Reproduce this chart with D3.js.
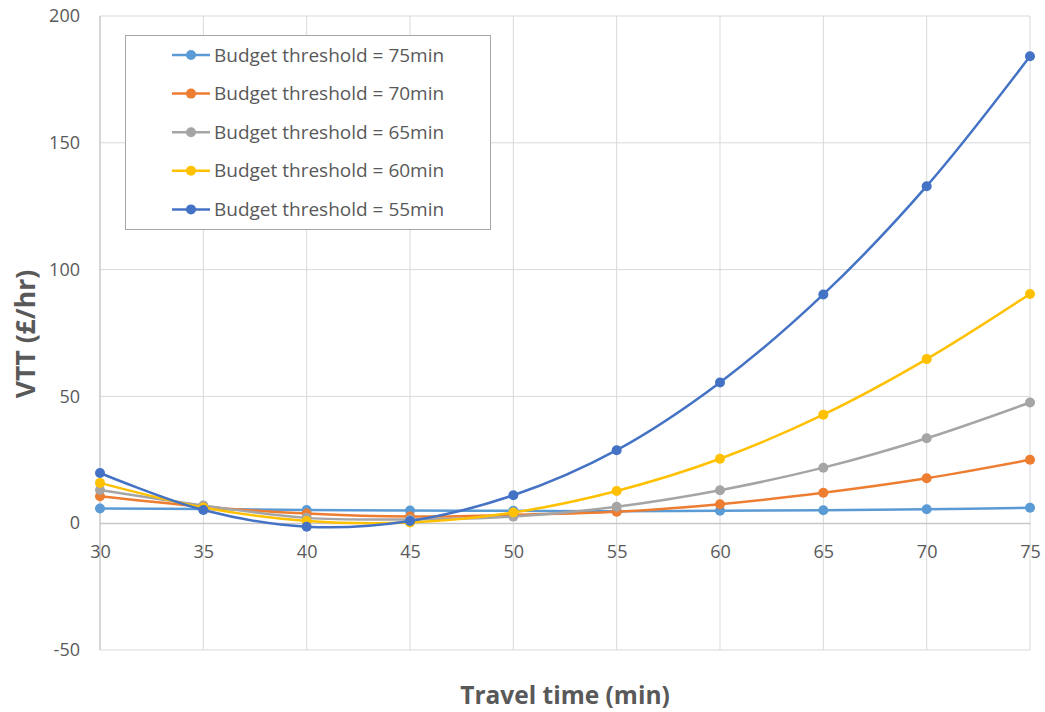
<!DOCTYPE html>
<html>
<head>
<meta charset="utf-8">
<script src="https://cdn.jsdelivr.net/npm/d3@7"></script>
<style>
  html, body { margin: 0; padding: 0; background: #fff; }
  svg { display: block; }
</style>
</head>
<body>
<svg id="chart" width="1045" height="712"></svg>
<script>
// Travel time (min) on the x axis
const travelTimes = [30, 35, 40, 45, 50, 55, 60, 65, 70, 75];

// VTT (£/hr) for each budget threshold
const vtt75 = [5.8, 5.6, 5.2, 5.0, 4.9, 4.7, 4.9, 5.1, 5.5, 6.1];
const vtt70 = [10.6, 6.5, 3.8, 2.6, 3.3, 4.5, 7.5, 12.0, 17.7, 25.0];
const vtt65 = [13.1, 7.0, 2.1, 1.5, 2.6, 6.5, 13.0, 21.9, 33.5, 47.6];
const vtt60 = [15.9, 6.2, 0.9, 0.3, 4.2, 12.7, 25.4, 42.8, 64.7, 90.4];
const vtt55 = [19.8, 5.2, -1.4, 0.9, 11.0, 28.8, 55.5, 90.2, 132.9, 184.1];

const seriesNames = [
  "Budget threshold = 75min",
  "Budget threshold = 70min",
  "Budget threshold = 65min",
  "Budget threshold = 60min",
  "Budget threshold = 55min"
];
const seriesValues = [vtt75, vtt70, vtt65, vtt60, vtt55];
const seriesColors = ["#5B9BD5", "#ED7D31", "#A5A5A5", "#FFC000", "#4472C4"];

const xTicks = [30, 35, 40, 45, 50, 55, 60, 65, 70, 75];
const yTicks = [-50, 0, 50, 100, 150, 200];

(function () {
  const svg = d3.select("#chart");
  const plotLeft = 100, plotRight = 1030, plotTop = 16, plotBottom = 650;
  const font = "'Open Sans', 'Noto Sans', sans-serif";
  const textColor = "#595959";

  const x = d3.scaleLinear().domain([30, 75]).range([plotLeft, plotRight]);
  const y = d3.scaleLinear().domain([-50, 200]).range([plotBottom, plotTop]);

  // gridlines
  const grid = svg.append("g");
  grid.selectAll(".hg").data(yTicks).join("line")
    .attr("x1", plotLeft).attr("x2", plotRight)
    .attr("y1", d => y(d)).attr("y2", d => y(d))
    .attr("stroke", "#d9d9d9").attr("stroke-width", 1);
  grid.selectAll(".vg").data(xTicks).join("line")
    .attr("x1", d => x(d)).attr("x2", d => x(d))
    .attr("y1", plotTop).attr("y2", plotBottom)
    .attr("stroke", "#d9d9d9").attr("stroke-width", 1);

  // vertical axis line
  svg.append("line")
    .attr("x1", plotLeft).attr("x2", plotLeft).attr("y1", plotTop).attr("y2", plotBottom)
    .attr("stroke", "#bfbfbf").attr("stroke-width", 1);

  // horizontal axis at zero, labels below it
  const xAxis = d3.axisBottom(x).tickValues(xTicks).tickSize(0).tickPadding(22)
    .tickFormat(d => String(d));
  const gx = svg.append("g").attr("transform", `translate(0,${y(0)})`).call(xAxis);
  gx.select(".domain").attr("stroke", "#bfbfbf");
  gx.selectAll("text").attr("font-family", font).attr("font-size", 18).attr("fill", textColor);

  const yAxis = d3.axisLeft(y).tickValues(yTicks).tickSize(0).tickPadding(20)
    .tickFormat(d => String(d));
  const gy = svg.append("g").attr("transform", `translate(${plotLeft},0)`).call(yAxis);
  gy.select(".domain").remove();
  gy.selectAll("text").attr("font-family", font).attr("font-size", 18).attr("fill", textColor);

  // series lines and markers
  const line = d3.line()
    .x((d, i) => x(travelTimes[i]))
    .y(d => y(d))
    .curve(d3.curveCatmullRom.alpha(0.5));

  seriesValues.forEach((vals, s) => {
    const g = svg.append("g");
    g.append("path")
      .attr("d", line(vals))
      .attr("fill", "none")
      .attr("stroke", seriesColors[s])
      .attr("stroke-width", 2.5)
      .attr("stroke-linejoin", "round");
    g.selectAll("circle").data(vals).join("circle")
      .attr("cx", (d, i) => x(travelTimes[i]))
      .attr("cy", d => y(d))
      .attr("r", 5)
      .attr("fill", seriesColors[s]);
  });

  // legend
  const legend = svg.append("g");
  legend.append("rect")
    .attr("x", 125.5).attr("y", 35.5).attr("width", 365).attr("height", 194)
    .attr("fill", "#fff").attr("stroke", "#a6a6a6").attr("stroke-width", 1);
  seriesNames.forEach((name, i) => {
    const ly = 55 + i * 38.6;
    legend.append("line")
      .attr("x1", 172).attr("x2", 210).attr("y1", ly).attr("y2", ly)
      .attr("stroke", seriesColors[i]).attr("stroke-width", 2.5);
    legend.append("circle")
      .attr("cx", 191).attr("cy", ly).attr("r", 5).attr("fill", seriesColors[i]);
    legend.append("text")
      .attr("x", 214).attr("y", ly).attr("dy", "0.35em")
      .attr("font-family", font).attr("font-size", 19).attr("fill", textColor)
      .text(name);
  });

  // axis titles
  svg.append("text")
    .attr("x", 565).attr("y", 704)
    .attr("text-anchor", "middle")
    .attr("font-family", font).attr("font-weight", "bold").attr("font-size", 24.5)
    .attr("fill", textColor)
    .text("Travel time (min)");

  svg.append("text")
    .attr("transform", "translate(35,334) rotate(-90)")
    .attr("text-anchor", "middle")
    .attr("font-family", font).attr("font-weight", "bold").attr("font-size", 26.5)
    .attr("fill", textColor)
    .text("VTT (£/hr)");
})();
</script>
</body>
</html>
